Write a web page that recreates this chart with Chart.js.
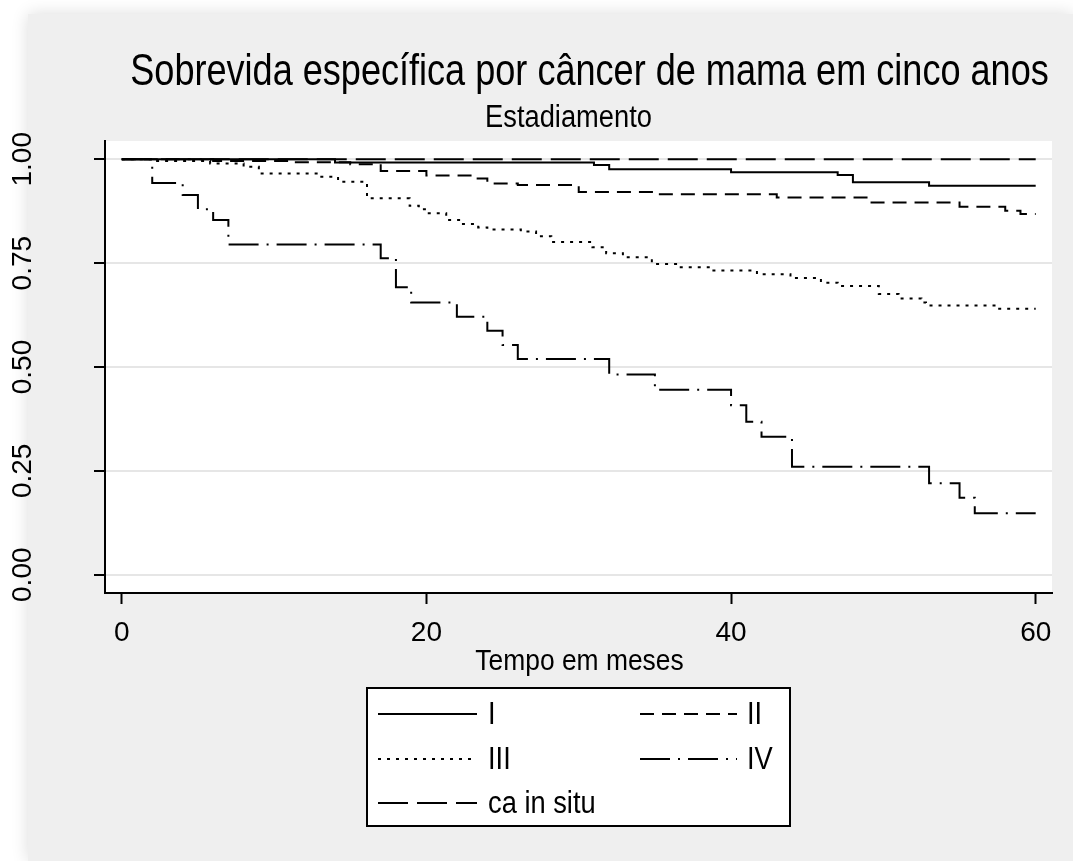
<!DOCTYPE html>
<html>
<head>
<meta charset="utf-8">
<script src="https://cdn.jsdelivr.net/npm/chart.js@4.4.1/dist/chart.umd.min.js"></script>
<style>
  html, body { margin: 0; padding: 0; background: #ffffff; width: 1073px; height: 861px; overflow: hidden; }
  #painel {
    position: absolute; left: 28px; top: 14px; width: 1045px; height: 847px;
    background: #efefef; box-shadow: 0 0 16px rgba(0, 0, 0, 0.14);
  }
  #grafico { position: absolute; left: 0; top: 0; }
</style>
</head>
<body>
<div id="painel"></div>
<canvas id="grafico" width="1073" height="861"></canvas>
<script>
const FONTE = '"Liberation Sans", Arial, sans-serif';
const ESTREITO = 0.82; // título em fonte estreita
const MEIO_ESTREITO = 0.88;

const titulo = "Sobrevida específica por câncer de mama em cinco anos";
const subtitulo = "Estadiamento";
const tituloX = "Tempo em meses";

// Estágio I
const tempoI = [0, 14, 31, 32, 40, 47, 48, 53, 60];
const sobrevidaI = [1.0, 0.992, 0.986, 0.976, 0.969, 0.962, 0.945, 0.936, 0.936];

// Estágio II
const tempoII = [0, 6, 11, 15, 17, 20, 23, 24, 26, 30, 35, 43, 49, 55, 58, 59, 60];
const sobrevidaII = [1.0, 0.996, 0.993, 0.988, 0.972, 0.961, 0.954, 0.942, 0.938, 0.921, 0.916, 0.908, 0.896, 0.886, 0.876, 0.868, 0.868];

// Estágio III
const tempoIII = [0, 2, 5.8, 8, 9, 13, 14.2, 16.1, 18.9, 19.5, 20, 21.3, 22.3, 23.4, 24, 26.2, 27.2, 28.2, 30.9, 31.8, 32.9, 34.8, 36.6, 38.7, 41.7, 43.9, 45.9, 47, 49.7, 51, 52.5, 52.8, 57.5, 60];
const sobrevidaIII = [1.0, 0.996, 0.99, 0.982, 0.966, 0.958, 0.946, 0.906, 0.888, 0.88, 0.87, 0.854, 0.844, 0.836, 0.831, 0.826, 0.815, 0.801, 0.788, 0.774, 0.764, 0.748, 0.74, 0.732, 0.723, 0.714, 0.703, 0.695, 0.676, 0.665, 0.655, 0.648, 0.64, 0.64];

// Estágio IV
const tempoIV = [0, 2, 4, 5, 6, 7, 17, 18, 19, 22, 24, 25, 26, 32, 35, 40, 41, 42, 44, 53, 55, 56, 60];
const sobrevidaIV = [1.0, 0.943, 0.914, 0.88, 0.854, 0.795, 0.762, 0.692, 0.655, 0.621, 0.587, 0.553, 0.519, 0.482, 0.445, 0.408, 0.368, 0.332, 0.26, 0.22, 0.185, 0.148, 0.148];

// ca in situ
const tempoInSitu = [0, 60];
const sobrevidaInSitu = [1.0, 1.0];

const ticksX = [0, 20, 40, 60];
const ticksY = [0, 0.25, 0.5, 0.75, 1];

function pontos(tempos, valores) {
  return tempos.map((t, i) => ({ x: t, y: valores[i] }));
}

function serie(label, tempos, valores, dash) {
  return {
    label,
    data: pontos(tempos, valores),
    borderColor: "#000000",
    borderWidth: 2,
    borderDash: dash,
    borderCapStyle: "butt",
    stepped: "before",
    pointRadius: 0,
    fill: false,
  };
}

function texto(ctx, s, x, y, size, align, rot, escala) {
  ctx.save();
  ctx.translate(x, y);
  if (rot) ctx.rotate(rot);
  if (escala) ctx.scale(escala, 1);
  ctx.font = size + "px " + FONTE;
  ctx.fillStyle = "#000000";
  ctx.textAlign = align || "center";
  ctx.textBaseline = "middle";
  ctx.fillText(s, 0, 0);
  ctx.restore();
}

// fundo branco da área do gráfico
const fundoPlot = {
  id: "fundoPlot",
  beforeDraw(chart) {
    const { ctx, chartArea } = chart;
    ctx.save();
    ctx.fillStyle = "#ffffff";
    ctx.fillRect(chartArea.left, chartArea.top, chartArea.right - chartArea.left, chartArea.bottom - chartArea.top);
    ctx.restore();
  },
};

// títulos e rótulos dos eixos
const textos = {
  id: "textos",
  afterDraw(chart) {
    const { ctx, chartArea } = chart;
    const x = chart.scales.x, y = chart.scales.y;
    const meio = (chartArea.left + chartArea.right) / 2;
    texto(ctx, titulo, meio + 11, 73, 44, "center", 0, ESTREITO);
    texto(ctx, subtitulo, meio - 10, 118, 31, "center", 0, MEIO_ESTREITO);
    y.ticks.forEach((t) => {
      texto(ctx, t.value.toFixed(2), 23, y.getPixelForValue(t.value), 28, "center", -Math.PI / 2);
    });
    x.ticks.forEach((t) => {
      texto(ctx, String(t.value), x.getPixelForValue(t.value), chartArea.bottom + 40, 28);
    });
    texto(ctx, tituloX, meio + 1, chartArea.bottom + 69, 30, "center", 0, MEIO_ESTREITO);
  },
};

// legenda em caixa, duas colunas
const legendaCaixa = {
  id: "legendaCaixa",
  afterDraw(chart) {
    const { ctx, chartArea } = chart;
    const w = 423, h = 138;
    const left = Math.round((chartArea.left + chartArea.right) / 2 - w / 2);
    const top = chartArea.bottom + 95;
    ctx.save();
    ctx.fillStyle = "#ffffff";
    ctx.fillRect(left, top, w, h);
    ctx.strokeStyle = "#000000";
    ctx.lineWidth = 2;
    ctx.strokeRect(left, top, w, h);
    const linhas = [top + 26, top + 71, top + 115];
    const cols = [{ x0: left + 11, x1: left + 110, tx: left + 121 }, { x0: left + 273, x1: left + 370, tx: left + 380 }];
    chart.data.datasets.forEach((ds, i) => {
      const c = cols[i % 2];
      const yy = linhas[Math.floor(i / 2)];
      ctx.beginPath();
      ctx.setLineDash(ds.borderDash || []);
      ctx.lineWidth = 2;
      ctx.strokeStyle = "#000000";
      ctx.moveTo(c.x0, yy);
      ctx.lineTo(c.x1, yy);
      ctx.stroke();
      ctx.setLineDash([]);
      texto(ctx, ds.label, c.tx, yy + 1, 31, "left", 0, MEIO_ESTREITO);
    });
    ctx.restore();
  },
};

const ctx = document.getElementById("grafico").getContext("2d");
new Chart(ctx, {
  type: "line",
  data: {
    datasets: [
      serie("I", tempoI, sobrevidaI, []),
      serie("II", tempoII, sobrevidaII, [14, 8]),
      serie("III", tempoIII, sobrevidaIII, [3, 6]),
      serie("IV", tempoIV, sobrevidaIV, [30, 8, 2, 8]),
      serie("ca in situ", tempoInSitu, sobrevidaInSitu, [30, 9]),
    ],
  },
  options: {
    responsive: false,
    animation: false,
    events: [],
    layout: { padding: { left: 0, right: 21, top: 141, bottom: 0 } },
    plugins: {
      legend: { display: false },
      tooltip: { enabled: false },
    },
    scales: {
      x: {
        type: "linear",
        min: -1.1,
        max: 61.07,
        afterBuildTicks: (s) => { s.ticks = ticksX.map((v) => ({ value: v })); },
        afterFit: (s) => { s.height = 268; },
        grid: { drawOnChartArea: false, tickLength: 11, tickColor: "#000000", tickWidth: 2 },
        border: { color: "#000000", width: 2 },
        ticks: { display: false },
      },
      y: {
        type: "linear",
        min: -0.044,
        max: 1.044,
        afterBuildTicks: (s) => { s.ticks = ticksY.map((v) => ({ value: v })); },
        afterFit: (s) => { s.width = 105; },
        grid: { color: "#e6e6e6", lineWidth: 2, tickLength: 11, tickColor: "#000000", tickWidth: 2 },
        border: { color: "#000000", width: 2 },
        ticks: { display: false },
      },
    },
  },
  plugins: [fundoPlot, textos, legendaCaixa],
});
</script>
</body>
</html>
